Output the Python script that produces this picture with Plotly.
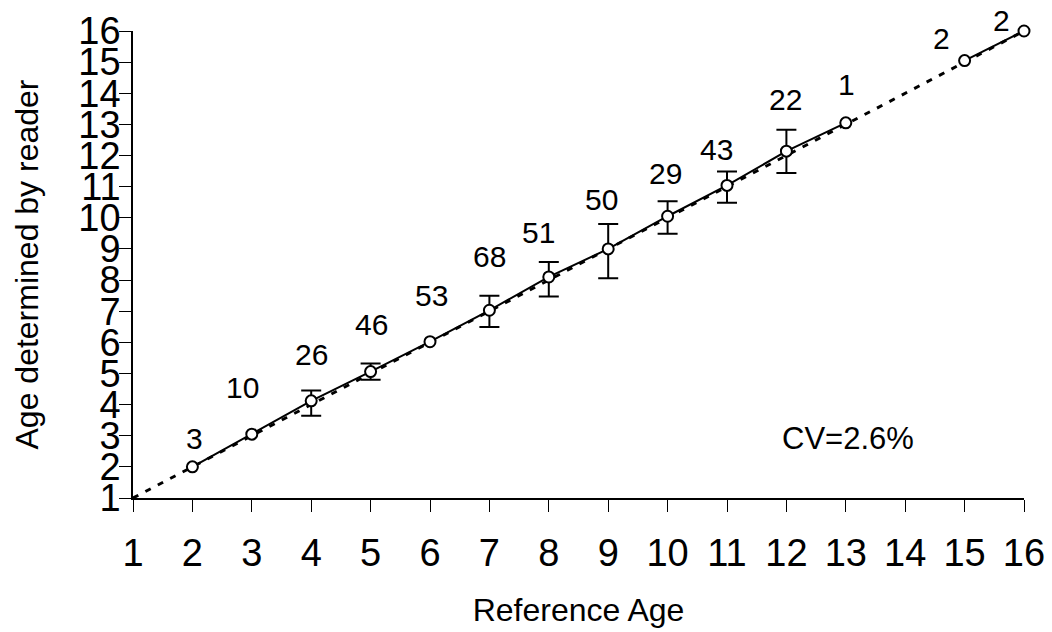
import plotly.graph_objects as go

# Reference ages and mean age determined by reader (None = no readings)
ref_age = [2, 3, 4, 5, 6, 7, 8, 9, 10, 11, 12, 13, 14, 15, 16]
mean_age = [2.0, 3.05, 4.12, 5.06, 6.02, 7.03, 8.1, 9.0, 10.05, 11.04, 12.14, 13.05, None, 15.05, 16.0]

# Error bars (upper / lower ends) where present
err_x = [4, 5, 7, 8, 9, 10, 11, 12]
err_mean = [4.12, 5.06, 7.03, 8.1, 9.0, 10.05, 11.04, 12.14]
err_top = [4.45, 5.32, 7.5, 8.58, 9.8, 10.53, 11.49, 12.83]
err_bottom = [3.64, 4.8, 6.49, 7.47, 8.06, 9.49, 10.48, 11.44]

# Sample sizes and their label positions
n_labels = ["3", "10", "26", "46", "53", "68", "51", "50", "29", "43", "22", "1", "2", "2"]
n_label_x = [2.04, 2.85, 4.01, 5.02, 6.03, 7.01, 7.82, 8.89, 9.97, 10.83, 11.98, 13.01, 14.61, 15.62]
n_label_y = [2.92, 4.55, 5.6, 6.56, 7.5, 8.76, 9.52, 10.58, 11.42, 12.19, 13.8, 14.28, 15.75, 16.35]

# 1:1 line
one_to_one = [1, 16]

x_ticks = list(range(1, 17))
y_ticks = list(range(1, 17))
Y_MIN, Y_MAX = 1, 16

FONT = "Liberation Sans, Arial, sans-serif"

fig = go.Figure()

fig.add_trace(go.Scatter(
    x=one_to_one, y=one_to_one, mode="lines",
    line=dict(color="black", width=3, dash="6px,8px"),
    hoverinfo="skip", showlegend=False, cliponaxis=False,
))

fig.add_trace(go.Scatter(
    x=err_x, y=err_mean, mode="markers",
    marker=dict(size=1, color="rgba(0,0,0,0)"),
    error_y=dict(
        type="data", symmetric=False,
        array=[t - m for t, m in zip(err_top, err_mean)],
        arrayminus=[m - b for m, b in zip(err_mean, err_bottom)],
        color="black", thickness=2, width=10,
    ),
    showlegend=False, hoverinfo="skip",
))

fig.add_trace(go.Scatter(
    x=ref_age, y=mean_age, mode="lines+markers",
    line=dict(color="black", width=2),
    marker=dict(symbol="circle", size=11, color="white", line=dict(color="black", width=2)),
    connectgaps=False, showlegend=False, cliponaxis=False,
))

# labels use paper y so that those above the top of the axis are still drawn
for t, lx, ly in zip(n_labels, n_label_x, n_label_y):
    fig.add_annotation(x=lx, xref="x", y=(ly - Y_MIN) / (Y_MAX - Y_MIN), yref="paper",
                       xanchor="center", yanchor="middle",
                       text=t, showarrow=False,
                       font=dict(family=FONT, size=30, color="black"))

fig.add_annotation(x=13.04, y=2.9, text="CV=2.6%", showarrow=False,
                   xanchor="center", yanchor="middle",
                   font=dict(family=FONT, size=31, color="black"))

fig.update_layout(
    width=1052, height=632,
    margin=dict(l=133, r=28, t=31, b=134),
    paper_bgcolor="white", plot_bgcolor="white",
    font=dict(family=FONT, color="black"),
)

fig.update_xaxes(
    range=[1, 16], tickvals=x_ticks, ticktext=[str(v) for v in x_ticks],
    showline=True, linecolor="black", linewidth=1.5,
    ticks="outside", ticklen=12, tickwidth=1, tickcolor="black",
    showgrid=False, zeroline=False, automargin=False,
    tickfont=dict(family=FONT, size=38), ticklabelstandoff=9,
    title=dict(text="Reference Age", font=dict(family=FONT, size=32), standoff=25),
)
fig.update_yaxes(
    range=[Y_MIN, Y_MAX], tickvals=y_ticks, ticktext=[str(v) for v in y_ticks],
    showline=True, linecolor="black", linewidth=1.5,
    ticks="outside", ticklen=12, tickwidth=1, tickcolor="black",
    showgrid=False, zeroline=False, automargin=False,
    tickfont=dict(family=FONT, size=38), ticklabelstandoff=-9,
    title=dict(text="Age determined by reader", font=dict(family=FONT, size=32), standoff=30),
)

# remove the browser's default page margin so the figure sits at the window's corner
fig.write_html("out.html", config={"displayModeBar": False},
               post_script="document.body.style.margin='0';")
